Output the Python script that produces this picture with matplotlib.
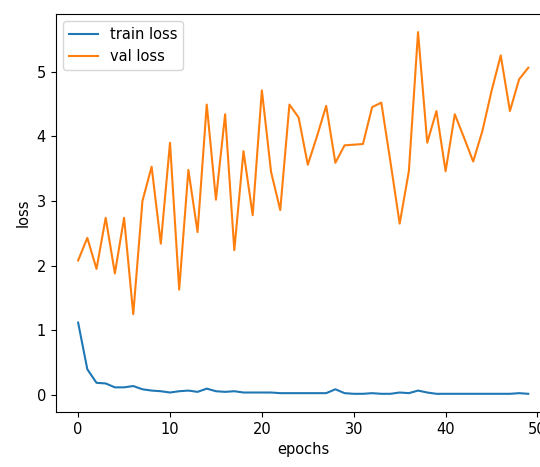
import matplotlib
matplotlib.use("Agg")
import matplotlib.pyplot as plt

epochs = list(range(50))

train_loss = [1.12, 0.40, 0.19, 0.18, 0.12, 0.12, 0.14, 0.09, 0.07, 0.06,
              0.04, 0.06, 0.07, 0.05, 0.10, 0.06, 0.05, 0.06, 0.04, 0.04,
              0.04, 0.04, 0.03, 0.03, 0.03, 0.03, 0.03, 0.03, 0.09, 0.03,
              0.02, 0.02, 0.03, 0.02, 0.02, 0.04, 0.03, 0.07, 0.04, 0.02,
              0.02, 0.02, 0.02, 0.02, 0.02, 0.02, 0.02, 0.02, 0.03, 0.02]

val_loss = [2.08, 2.43, 1.95, 2.74, 1.88, 2.74, 1.25, 3.00, 3.53, 2.34,
            3.90, 1.63, 3.48, 2.52, 4.49, 3.02, 4.34, 2.24, 3.77, 2.78,
            4.71, 3.45, 2.86, 4.49, 4.29, 3.56, 4.00, 4.47, 3.59, 3.86,
            3.87, 3.88, 4.45, 4.52, 3.60, 2.65, 3.46, 5.61, 3.90, 4.39,
            3.46, 4.34, 3.98, 3.61, 4.08, 4.70, 5.25, 4.39, 4.88, 5.06]

plt.rcParams['font.size'] = 10.5

fig = plt.figure(figsize=(5.4, 4.67), dpi=100)
# the reference screenshot is cropped on the right, so the axes run past the edge
ax = fig.add_axes([0.103, 0.118, 0.917, 0.852])

ax.plot(epochs, train_loss, label="train loss")
ax.plot(epochs, val_loss, label="val loss")
ax.set_xlabel("epochs")
ax.set_ylabel("loss")
ax.legend(loc="upper left")

fig.savefig("out.png", dpi=100)
